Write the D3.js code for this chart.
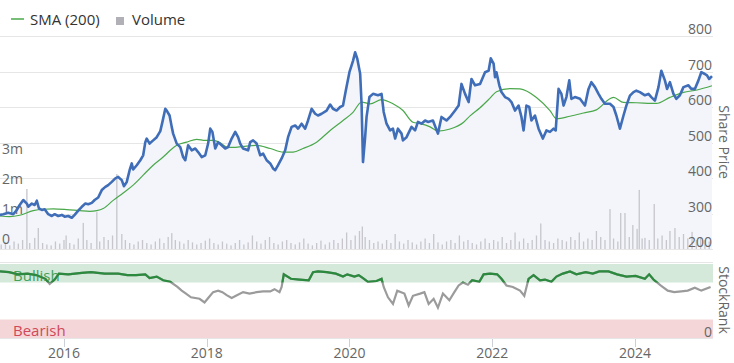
<!DOCTYPE html>
<html>
<head>
<meta charset="UTF-8">
<script src="https://d3js.org/d3.v7.min.js"></script>
<style>
  body { margin: 0; background: #fff; font-family: "Open Sans", sans-serif; }
  svg text { font-family: "Open Sans", sans-serif; }
</style>
</head>
<body>
<svg id="chart" width="734" height="363"></svg>
<script>
// ---- data (years as decimals) ----
const priceYears = [2015.10,2015.15,2015.22,2015.29,2015.34,2015.38,2015.43,2015.48,2015.50,2015.55,2015.59,2015.62,2015.65,2015.69,2015.73,2015.78,2015.83,2015.87,2015.92,2015.97,
  2016.01,2016.06,2016.11,2016.15,2016.20,2016.25,2016.30,2016.34,2016.39,2016.43,2016.48,2016.53,2016.58,2016.62,2016.67,2016.72,2016.76,2016.81,2016.84,2016.88,2016.92,2016.95,2016.97,
  2017.02,2017.07,2017.11,2017.14,2017.16,2017.20,2017.25,2017.30,2017.35,2017.38,2017.42,2017.44,2017.48,2017.51,2017.53,2017.58,2017.63,2017.67,2017.70,2017.74,2017.79,2017.84,2017.88,2017.93,2017.98,
  2018.02,2018.05,2018.08,2018.12,2018.16,2018.21,2018.26,2018.30,2018.35,2018.40,2018.44,2018.47,2018.51,2018.58,2018.61,2018.65,2018.70,2018.75,2018.79,2018.84,2018.89,2018.93,2018.96,
  2019.00,2019.05,2019.10,2019.14,2019.19,2019.24,2019.28,2019.33,2019.38,2019.42,2019.47,2019.52,2019.56,2019.61,2019.68,2019.73,2019.77,2019.82,2019.87,2019.91,2019.95,
  2020.00,2020.05,2020.08,2020.11,2020.15,2020.17,2020.19,2020.22,2020.24,2020.28,2020.33,2020.40,2020.45,2020.48,2020.52,2020.57,2020.61,2020.64,2020.68,2020.73,2020.75,2020.80,2020.87,2020.92,2020.96,
  2021.01,2021.06,2021.10,2021.17,2021.24,2021.29,2021.36,2021.41,2021.48,2021.53,2021.57,2021.62,2021.67,2021.71,2021.76,2021.83,2021.90,2021.95,2021.98,
  2022.02,2022.04,2022.06,2022.10,2022.13,2022.18,2022.23,2022.27,2022.32,2022.37,2022.41,2022.44,2022.48,2022.52,2022.55,2022.60,2022.65,2022.71,2022.76,2022.81,2022.86,2022.89,2022.93,2022.97,
  2023.00,2023.04,2023.08,2023.11,2023.16,2023.23,2023.30,2023.35,2023.39,2023.44,2023.49,2023.53,2023.58,2023.65,2023.70,2023.74,2023.79,2023.84,2023.88,2023.93,2023.98,
  2024.02,2024.07,2024.14,2024.19,2024.23,2024.28,2024.33,2024.37,2024.42,2024.45,2024.49,2024.54,2024.58,2024.63,2024.68,2024.75,2024.79,2024.84,2024.89,2024.93,2024.98,2025.01,2025.04,2025.08];
const price = [296,298,302,298,310,324,338,328,319,328,324,336,314,310,312,298,293,298,293,296,
  291,293,288,296,308,319,328,326,330,338,345,366,375,380,389,399,403,394,377,389,422,441,424,
  436,450,464,501,511,497,506,515,532,558,595,590,576,544,525,497,487,459,450,492,478,483,473,459,464,
  497,539,530,483,501,492,483,487,511,530,515,497,483,478,501,506,497,464,469,450,441,427,422,
  436,455,478,515,544,548,539,553,539,562,595,581,576,581,590,607,595,590,600,604,647,
  698,730,754,736,694,609,445,515,572,628,637,633,637,586,553,534,539,511,539,525,506,515,544,534,558,
  553,562,558,562,525,572,562,572,590,604,665,637,614,679,661,665,698,702,737,
  722,684,698,661,642,628,623,614,590,604,572,534,604,600,562,576,539,511,534,530,539,534,651,637,
  604,628,675,623,628,623,604,651,670,656,637,623,609,609,600,576,539,576,604,632,642,
  646,642,633,637,628,618,656,702,675,651,670,637,623,633,656,661,651,651,675,698,693,689,679,687];

const smaYears = [2015.10,2015.24,2015.38,2015.57,2015.71,2015.85,2016.04,2016.22,2016.36,2016.46,2016.55,2016.69,2016.83,2016.97,2017.11,2017.25,2017.39,2017.49,2017.58,2017.72,2017.86,2017.98,
  2018.09,2018.19,2018.28,2018.37,2018.51,2018.70,2018.89,2019.07,2019.21,2019.35,2019.54,2019.73,2019.91,2020.05,2020.17,2020.29,2020.45,2020.61,2020.75,2020.89,2020.99,
  2021.13,2021.24,2021.41,2021.60,2021.69,2021.83,2021.97,2022.06,2022.25,2022.39,2022.62,2022.81,2022.90,2023.09,2023.28,2023.46,2023.70,2023.84,2024.02,2024.30,2024.49,2024.68,2024.87,2025.08];
const sma = [293,291,295,308,312,313,311,308,306,308,314,337,358,380,408,436,459,478,492,501,509,506,
  506,499,487,486,489,492,483,473,473,483,501,534,562,585,614,609,621,609,590,557,553,
  544,532,538,557,575,598,625,643,652,651,627,590,567,574,583,592,627,613,612,610,627,641,648,660];

const volYears = [2015.12,2015.18,2015.24,2015.30,2015.36,2015.42,2015.48,2015.52,2015.59,2015.64,2015.70,2015.76,2015.82,2015.88,2015.94,
  2016.00,2016.03,2016.08,2016.14,2016.20,2016.27,2016.32,2016.38,2016.46,2016.50,2016.56,2016.62,2016.68,2016.74,2016.81,2016.86,2016.92,2016.98,
  2017.04,2017.10,2017.16,2017.22,2017.28,2017.34,2017.40,2017.46,2017.51,2017.56,2017.62,2017.68,2017.74,2017.80,2017.86,2017.92,2017.98,
  2018.04,2018.10,2018.16,2018.22,2018.28,2018.34,2018.40,2018.46,2018.52,2018.58,2018.64,2018.70,2018.76,2018.82,2018.88,2018.94,
  2019.00,2019.06,2019.12,2019.18,2019.24,2019.30,2019.36,2019.42,2019.48,2019.54,2019.60,2019.66,2019.72,2019.78,2019.84,2019.90,2019.96,
  2020.02,2020.08,2020.14,2020.18,2020.22,2020.28,2020.34,2020.40,2020.46,2020.52,2020.58,2020.64,2020.70,2020.76,2020.82,2020.88,2020.94,
  2021.00,2021.06,2021.12,2021.18,2021.24,2021.30,2021.36,2021.42,2021.48,2021.54,2021.60,2021.66,2021.72,2021.78,2021.84,2021.90,2021.96,
  2022.02,2022.08,2022.14,2022.20,2022.26,2022.32,2022.38,2022.44,2022.50,2022.56,2022.62,2022.68,2022.74,2022.80,2022.86,2022.92,2022.98,
  2023.04,2023.10,2023.16,2023.22,2023.28,2023.34,2023.40,2023.46,2023.52,2023.58,2023.65,2023.70,2023.76,2023.80,2023.86,2023.92,2023.97,
  2024.03,2024.06,2024.10,2024.14,2024.20,2024.27,2024.32,2024.38,2024.44,2024.49,2024.56,2024.62,2024.68,2024.74,2024.80,2024.86,2024.92,2024.98,2025.04];
const volume = [0.15,0.22,0.12,0.25,0.18,0.3,2.0,0.2,0.37,0.7,0.2,0.15,0.12,0.25,0.18,
  0.3,0.45,0.2,0.15,0.35,0.87,0.3,0.2,1.23,0.25,0.4,0.3,0.45,2.5,0.5,0.3,0.2,0.15,
  0.25,0.3,0.2,0.15,0.25,0.35,0.2,0.4,0.53,0.3,0.25,0.18,0.3,0.22,0.15,0.2,0.28,
  0.35,0.2,0.15,0.25,0.18,0.12,0.2,0.3,0.15,0.22,0.45,0.25,0.18,0.3,0.4,0.2,
  0.15,0.25,0.3,0.2,0.15,0.22,0.35,0.18,0.12,0.2,0.28,0.15,0.22,0.3,0.2,0.35,0.55,
  0.3,0.45,0.6,0.75,0.4,0.3,0.2,0.25,0.18,0.3,0.2,0.5,0.25,0.18,0.3,0.22,0.15,
  0.25,0.35,0.2,0.5,0.22,0.15,0.25,0.3,0.2,0.45,0.25,0.3,0.2,0.15,0.25,0.35,0.2,
  0.3,0.25,0.4,0.2,0.3,0.55,0.25,0.35,0.2,0.3,0.45,0.85,0.3,0.25,0.2,0.35,0.3,
  0.25,0.4,0.3,0.55,0.25,0.35,0.3,0.6,0.4,0.3,1.33,0.35,0.25,1.2,1.2,0.4,0.8,
  0.67,1.97,0.35,0.37,0.3,1.5,0.35,0.45,0.3,0.6,0.7,0.4,0.5,0.35,0.57,0.3,0.4,0.3,0.25];

const rankYears = [2015.10,2015.23,2015.36,2015.49,2015.61,2015.74,2015.80,2015.87,2015.93,2016.06,2016.25,2016.38,2016.57,2016.76,2016.89,
  2017.01,2017.14,2017.20,2017.30,2017.39,2017.49,2017.59,2017.65,2017.71,2017.78,2017.90,2017.97,2018.03,2018.09,2018.16,2018.22,2018.28,2018.35,2018.41,2018.51,2018.60,2018.70,2018.79,2018.89,2018.95,
  2019.02,2019.05,2019.08,2019.18,2019.30,2019.43,2019.49,2019.56,2019.68,2019.81,2019.91,2019.97,2020.07,2020.13,2020.19,2020.26,2020.38,2020.45,2020.48,2020.54,2020.61,2020.67,2020.77,2020.83,2020.89,2020.99,
  2021.05,2021.11,2021.18,2021.24,2021.31,2021.40,2021.47,2021.53,2021.59,2021.66,2021.72,2021.82,2021.88,2021.97,2022.07,2022.13,2022.20,2022.29,2022.39,2022.45,2022.51,2022.58,2022.67,2022.74,2022.83,2022.90,2022.99,
  2023.09,2023.18,2023.31,2023.41,2023.50,2023.63,2023.75,2023.88,2024.01,2024.14,2024.20,2024.26,2024.36,2024.46,2024.55,2024.65,2024.74,2024.84,2024.93,2025.06];
const stockRank = [90,89,86,87,85,80,73,79,87,86,88,89,87,87,85,
  85,86,81,83,78,76,69,64,60,55,53,48,55,62,64,62,58,54,57,62,60,62,63,63,66,
  62,69,86,80,79,78,89,90,89,87,83,86,83,85,81,76,77,80,69,55,46,64,60,44,57,60,
  62,46,53,41,60,51,62,71,75,72,78,76,86,87,86,80,71,69,64,57,80,85,78,79,76,83,87,
  90,86,89,87,90,90,86,83,84,80,86,79,71,64,62,63,64,68,64,69];

const priceTicks = [200, 300, 400, 500, 600, 700, 800];
const volumeTicks = [0, 1, 2, 3];
const volumeTickLabels = ["0", "1m", "2m", "3m"];
const yearTicks = [2016, 2018, 2020, 2022, 2024];
const bands = [{ name: "Bullish", from: 75, to: 100 }, { name: "Bearish", from: 0, to: 25 }];

// ---- layout ----
const svg = d3.select("#chart");
const plotRight = 713;

const x = d3.scaleLinear().domain([2015.104, 2025.08]).range([0, 712]);
const yPrice = d3.scaleLinear().domain([200, 800]).range([249, 36]);
const yVol = d3.scaleLinear().domain([0, 3]).range([249, 159]);
const yRank = d3.scaleLinear().domain([0, 100]).range([338, 264]);

const priceData = priceYears.map((t, i) => ({ t, v: price[i] }));
const smaData = smaYears.map((t, i) => ({ t, v: sma[i] }));
const volData = volYears.map((t, i) => ({ t, v: volume[i] }));
const rankData = rankYears.map((t, i) => ({ t, v: stockRank[i] }));

// legend
const legend = svg.append("g");
legend.append("line").attr("x1", 11).attr("x2", 24).attr("y1", 19).attr("y2", 19)
  .attr("stroke", "#4aa84a").attr("stroke-width", 1.5);
legend.append("text").attr("x", 30).attr("y", 25).attr("font-size", 15).attr("fill", "#333").text("SMA (200)");
legend.append("rect").attr("x", 116).attr("y", 17).attr("width", 8).attr("height", 8).attr("fill", "#b0b0b6");
legend.append("text").attr("x", 132).attr("y", 25).attr("font-size", 15).attr("fill", "#333").text("Volume");

// price gridlines
svg.append("g").selectAll("line").data(priceTicks).join("line")
  .attr("x1", 0).attr("x2", plotRight)
  .attr("y1", d => Math.round(yPrice(d)) + 0.5).attr("y2", d => Math.round(yPrice(d)) + 0.5)
  .attr("stroke", "#e6e6e6");

// area under price
svg.append("path").datum(priceData)
  .attr("fill", "#f3f5fb")
  .attr("d", d3.area().x(d => x(d.t)).y0(yPrice(200)).y1(d => yPrice(d.v)));

// volume bars
svg.append("g").selectAll("rect").data(volData).join("rect")
  .attr("x", d => x(d.t) - 0.6).attr("width", 1.3)
  .attr("y", d => yVol(d.v)).attr("height", d => yVol(0) - yVol(d.v))
  .attr("fill", "#c6c6cc");

svg.append("g").selectAll("text").data(priceTicks).join("text")
  .attr("x", 712).attr("y", d => yPrice(d) - 2)
  .attr("text-anchor", "end").attr("font-size", 14).attr("fill", "#666")
  .text(d => d);

svg.append("g").selectAll("text").data(volumeTicks).join("text")
  .attr("x", 2).attr("y", d => yVol(d) - 5)
  .attr("font-size", 14).attr("fill", "#666")
  .text((d, i) => volumeTickLabels[i]);

// SMA and price lines
svg.append("path").datum(smaData)
  .attr("fill", "none").attr("stroke", "#4aa84a").attr("stroke-width", 1.2)
  .attr("d", d3.line().x(d => x(d.t)).y(d => yPrice(d.v)).curve(d3.curveMonotoneX));

svg.append("path").datum(priceData)
  .attr("fill", "none").attr("stroke", "#3f6db8").attr("stroke-width", 2.6)
  .attr("stroke-linejoin", "round")
  .attr("d", d3.line().x(d => x(d.t)).y(d => yPrice(d.v)));

// ---- StockRank pane ----
svg.append("line").attr("x1", 0).attr("x2", plotRight).attr("y1", 262.5).attr("y2", 262.5).attr("stroke", "#e6e6e6");
svg.append("line").attr("x1", 0).attr("x2", plotRight).attr("y1", 338.5).attr("y2", 338.5).attr("stroke", "#e6e6e6");

svg.append("rect").attr("x", 0).attr("width", plotRight)
  .attr("y", yRank(bands[0].to)).attr("height", yRank(bands[0].from) - yRank(bands[0].to))
  .attr("fill", "#d4e9da");
svg.append("rect").attr("x", 0).attr("width", plotRight)
  .attr("y", yRank(bands[1].to)).attr("height", yRank(bands[1].from) - yRank(bands[1].to))
  .attr("fill", "#f4d6d8");

svg.append("text").attr("x", 13).attr("y", 281).attr("font-size", 15).attr("fill", "#45a05a").text(bands[0].name);
svg.append("text").attr("x", 13).attr("y", 336).attr("font-size", 15).attr("fill", "#d0495a").text(bands[1].name);
svg.append("text").attr("x", 712).attr("y", 337).attr("text-anchor", "end").attr("font-size", 14).attr("fill", "#666").text("0");

const rankLine = d3.line().x(d => x(d.t)).y(d => yRank(d.v));
svg.append("defs").append("clipPath").attr("id", "bull")
  .append("rect").attr("x", 0).attr("y", 0).attr("width", 734).attr("height", yRank(75));
svg.append("path").datum(rankData)
  .attr("fill", "none").attr("stroke", "#9b9b9b").attr("stroke-width", 2.2).attr("d", rankLine);
svg.append("path").datum(rankData)
  .attr("fill", "none").attr("stroke", "#2b8a3e").attr("stroke-width", 2.2)
  .attr("clip-path", "url(#bull)").attr("d", rankLine);

// axis titles (rotated, reading top to bottom)
svg.append("text").attr("transform", "translate(719,142) rotate(90)")
  .attr("text-anchor", "middle").attr("font-size", 14).attr("fill", "#666").text("Share Price");
svg.append("text").attr("transform", "translate(719,300) rotate(90)")
  .attr("text-anchor", "middle").attr("font-size", 14).attr("fill", "#666").text("StockRank");

// x axis
const xAxis = svg.append("g");
xAxis.selectAll("line").data(yearTicks).join("line")
  .attr("x1", d => Math.round(x(d)) + 0.5).attr("x2", d => Math.round(x(d)) + 0.5)
  .attr("y1", 339).attr("y2", 347).attr("stroke", "#ccd0d8");
xAxis.selectAll("text").data(yearTicks).join("text")
  .attr("x", d => x(d)).attr("y", 358).attr("text-anchor", "middle")
  .attr("font-size", 14).attr("fill", "#666").text(d => d);
</script>
</body>
</html>
